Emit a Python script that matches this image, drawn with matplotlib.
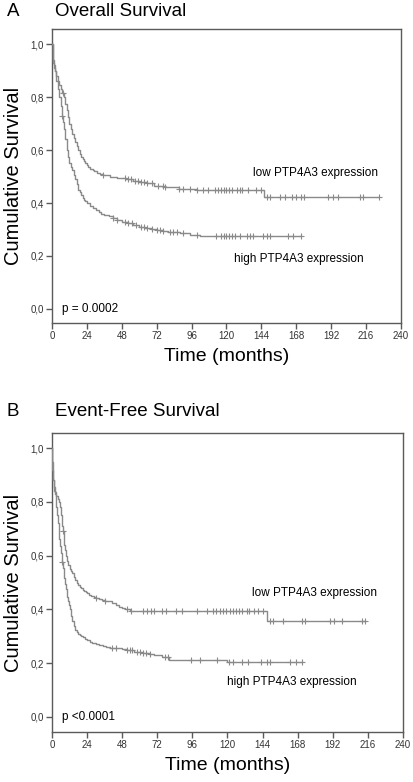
import numpy as np
import matplotlib
matplotlib.use("Agg")
import matplotlib.pyplot as plt

plt.rcParams['font.family'] = ['Liberation Sans', 'DejaVu Sans']

# ---------------- data ----------------
# Overall survival, low PTP4A3 expression
os_low_t = [0, 0.5, 1, 1.5, 2, 3, 4, 5, 6, 7, 8, 9, 10, 11, 12, 13, 14, 15, 16, 17, 18, 19, 20, 21, 22, 23,
            24, 25, 26, 27, 28, 29, 31, 33, 35, 40, 45, 51, 56, 60, 65, 70, 78, 87, 100, 146]
os_low_s = [1.0, 0.96, 0.93, 0.91, 0.90, 0.88, 0.86, 0.845, 0.83, 0.815, 0.80, 0.775, 0.75, 0.725, 0.70, 0.68,
            0.66, 0.645, 0.63, 0.615, 0.60, 0.585, 0.575, 0.565, 0.557, 0.55, 0.543, 0.537, 0.53, 0.527, 0.524,
            0.52, 0.515, 0.51, 0.505, 0.50, 0.495, 0.49, 0.485, 0.48, 0.475, 0.465, 0.46, 0.453, 0.45, 0.423]
os_low_end = 225
os_low_cens = [7.5, 35, 50, 52, 54, 57, 59, 61, 63, 65, 69, 73, 76, 78, 87, 90, 95, 100, 104, 107,
               112, 114, 116, 118, 120, 122, 124, 127, 129, 131, 135, 140, 144,
               148, 150, 157, 160, 165, 168, 171, 173, 190, 193, 197, 212, 214, 225]

# Overall survival, high PTP4A3 expression
os_high_t = [0, 0.5, 1, 1.5, 2, 2.5, 3, 4, 5, 6, 7, 7.5, 8, 9, 10, 11, 12, 13, 14, 15, 16, 17, 18, 19, 20, 21,
             22, 23, 24, 26, 28, 30, 32, 34, 36, 39, 42, 45, 48, 52, 56, 60, 64, 68, 72, 76, 80, 88, 95, 102]
os_high_s = [1.0, 0.96, 0.94, 0.92, 0.90, 0.88, 0.86, 0.83, 0.80, 0.765, 0.73, 0.705, 0.68, 0.64, 0.60, 0.575,
             0.55, 0.537, 0.525, 0.507, 0.49, 0.47, 0.45, 0.44, 0.43, 0.42, 0.413, 0.407, 0.40, 0.39, 0.38,
             0.372, 0.365, 0.36, 0.355, 0.35, 0.343, 0.337, 0.33, 0.323, 0.317, 0.311, 0.305, 0.301, 0.298,
             0.294, 0.29, 0.287, 0.28, 0.276]
os_high_end = 171
os_high_cens = [7, 42, 45, 50, 52, 55, 58, 61, 63, 65, 69, 72, 74, 76, 81, 83, 86, 90, 100,
                113, 116, 118, 120, 122, 124, 126, 129, 134, 136, 138, 145, 148, 150, 162, 166, 171]

# Event-free survival, low PTP4A3 expression
efs_low_t = [0, 0.3, 0.6, 1, 1.5, 2, 3, 4, 5, 5.5, 6, 6.5, 7, 7.5, 8, 8.5, 9, 9.5, 10, 11, 12, 13, 14, 15, 16,
             17, 18, 19, 20, 21, 22, 23, 24, 25.5, 27, 28.5, 30, 32, 34, 36, 39, 41, 44, 46, 48, 50, 53, 147]
efs_low_s = [1.0, 0.92, 0.90, 0.88, 0.84, 0.835, 0.82, 0.81, 0.80, 0.78, 0.75, 0.73, 0.71, 0.69, 0.665, 0.64,
             0.62, 0.60, 0.58, 0.565, 0.55, 0.542, 0.535, 0.52, 0.51, 0.50, 0.492, 0.485, 0.478, 0.472, 0.467,
             0.463, 0.46, 0.455, 0.45, 0.446, 0.442, 0.438, 0.435, 0.432, 0.43, 0.422, 0.415, 0.41, 0.405,
             0.40, 0.394, 0.357]
efs_low_end = 214
efs_low_cens = [7.5, 30, 36, 51, 54, 62, 65, 68, 70, 75, 78, 85, 89, 99, 106,
                110, 112, 115, 117, 119, 122, 124, 126, 128, 130, 133, 135, 138, 141, 144,
                149, 151, 158, 171, 173, 190, 193, 198, 212, 214]

# Event-free survival, high PTP4A3 expression
efs_high_t = [0, 0.3, 0.6, 1, 1.5, 2, 2.5, 3, 3.5, 4, 4.5, 5, 5.5, 6, 6.5, 7, 7.5, 8, 8.5, 9, 9.5, 10, 10.5,
              11, 11.5, 12, 13, 14, 15, 16, 17, 18, 19, 20, 21, 22.5, 24, 26, 27.5, 30, 32, 35, 37, 40, 44,
              48, 51, 56, 62, 66, 70, 75.5, 80, 120]
efs_high_s = [1.0, 0.95, 0.92, 0.88, 0.855, 0.83, 0.805, 0.78, 0.75, 0.72, 0.69, 0.66, 0.635, 0.61, 0.593,
              0.576, 0.555, 0.535, 0.515, 0.495, 0.477, 0.46, 0.445, 0.43, 0.415, 0.40, 0.377, 0.355, 0.338,
              0.323, 0.316, 0.31, 0.305, 0.30, 0.297, 0.291, 0.285, 0.28, 0.275, 0.271, 0.268, 0.263, 0.26,
              0.258, 0.255, 0.252, 0.249, 0.243, 0.238, 0.234, 0.23, 0.223, 0.212, 0.205]
efs_high_end = 171
efs_high_cens = [7, 41, 44, 51, 53, 55, 58, 60, 62, 64, 67, 77, 79, 95, 101, 113, 121, 124, 130, 134,
                 143, 147, 149, 163, 167, 171]

x_ticks = [0, 24, 48, 72, 96, 120, 144, 168, 192, 216, 240]
y_ticks = [0.0, 0.2, 0.4, 0.6, 0.8, 1.0]
y_ticklabels = ['0,0', '0,2', '0,4', '0,6', '0,8', '1,0']

LINE = '#8a8a8a'
FRAME = '#5a5a5a'


def step_value(t, s, x):
    t = np.asarray(t, float)
    s = np.asarray(s, float)
    idx = np.searchsorted(t, x, side='right') - 1
    return s[np.clip(idx, 0, len(s) - 1)]


def km(ax, t, s, end, cens):
    tt = list(t) + [end]
    ss = list(s) + [s[-1]]
    ax.step(tt, ss, where='post', color=LINE, lw=1.0, zorder=3)
    c = np.asarray(cens, float)
    ax.plot(c, step_value(t, s, c), ls='none', marker='+', ms=4.5, mew=0.8,
            color=LINE, zorder=4)


def style(ax, ylo, yhi):
    ax.set_xlim(0, 240)
    ax.set_ylim(ylo, yhi)
    ax.set_xticks(x_ticks)
    ax.set_xticklabels([str(v) for v in x_ticks])
    ax.set_yticks(y_ticks)
    ax.set_yticklabels(y_ticklabels)
    for sp in ax.spines.values():
        sp.set_color(FRAME)
        sp.set_linewidth(1.0)
    ax.tick_params(axis='both', direction='out', length=4, width=1.0,
                   color=FRAME, labelsize=7, labelcolor='#333333', pad=2)


fig = plt.figure(figsize=(4.14, 7.82), dpi=100)

# ---------- Panel A ----------
ax1 = fig.add_axes([52 / 414, 1 - 323 / 782, 349 / 414, 294 / 782])
km(ax1, os_low_t, os_low_s, os_low_end, os_low_cens)
km(ax1, os_high_t, os_high_s, os_high_end, os_high_cens)
style(ax1, -0.053, 1.057)
ax1.text(224, 0.513, 'low PTP4A3 expression', ha='right', va='center', fontsize=8.5)
ax1.text(214.5, 0.19, 'high PTP4A3 expression', ha='right', va='center', fontsize=8.5)
ax1.text(7, 0.0, 'p = 0.0002', ha='left', va='center', fontsize=8.5)
ax1.set_xlabel('Time (months)', fontsize=14, labelpad=5)
ax1.set_ylabel('Cumulative Survival', fontsize=14.5, labelpad=5)
fig.text(7 / 414, 1 - 12 / 782, 'A', fontsize=13.5, ha='left', va='center')
fig.text(55 / 414, 1 - 12 / 782, 'Overall Survival', fontsize=13.5, ha='left', va='center')

# ---------- Panel B ----------
ax2 = fig.add_axes([52 / 414, 1 - 732 / 782, 351 / 414, 299 / 782])
km(ax2, efs_low_t, efs_low_s, efs_low_end, efs_low_cens)
km(ax2, efs_high_t, efs_high_s, efs_high_end, efs_high_cens)
style(ax2, -0.056, 1.056)
ax2.text(222, 0.46, 'low PTP4A3 expression', ha='right', va='center', fontsize=8.5)
ax2.text(208.5, 0.13, 'high PTP4A3 expression', ha='right', va='center', fontsize=8.5)
ax2.text(7, 0.0, 'p <0.0001', ha='left', va='center', fontsize=8.5)
ax2.set_xlabel('Time (months)', fontsize=14, labelpad=5)
ax2.set_ylabel('Cumulative Survival', fontsize=14.5, labelpad=5)
fig.text(7 / 414, 1 - 412 / 782, 'B', fontsize=13.5, ha='left', va='center')
fig.text(55 / 414, 1 - 412 / 782, 'Event-Free Survival', fontsize=13.5, ha='left', va='center')

fig.savefig('out.png', dpi=100)
